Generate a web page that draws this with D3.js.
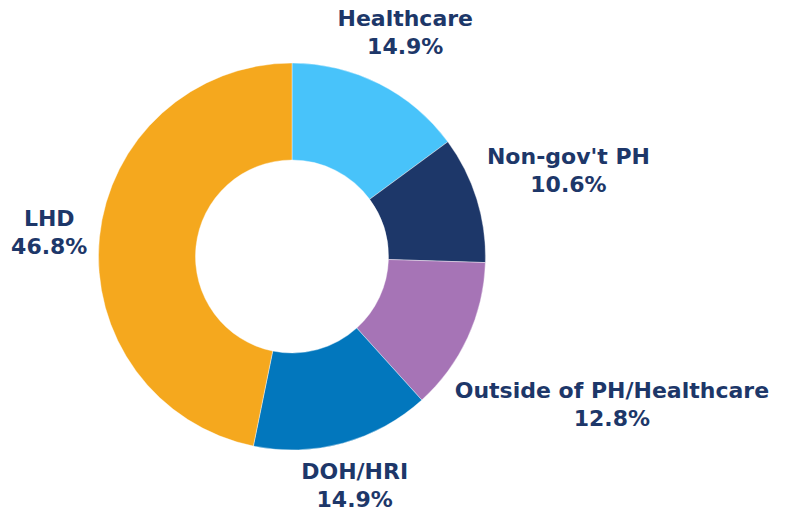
<!DOCTYPE html>
<html>
<head>
<meta charset="utf-8">
<script src="https://cdn.jsdelivr.net/npm/d3@7"></script>
<style>
  body { margin: 0; background: #fff; }
  text { font-family: "DejaVu Sans", sans-serif; font-weight: bold; fill: #1d3769; }
</style>
</head>
<body>
<div id="chart"></div>
<script>
// Data, clockwise from 12 o'clock
const categories = ["Healthcare", "Non-gov't PH", "Outside of PH/Healthcare", "DOH/HRI", "LHD"];
const shares = [14.9, 10.6, 12.8, 14.9, 46.8];
const colours = ["#48c3fa", "#1d3769", "#a674b6", "#0277bd", "#f5a81e"];

const width = 790;
const height = 518;
const cx = 292;
const cy = 256.5;
const outerR = 193.5;
const innerR = 96.5;
const labelGap = 12;
const fontSize = 22;
const lineHeight = 28;

const svg = d3.select("#chart").append("svg")
  .attr("width", width)
  .attr("height", height);

const g = svg.append("g").attr("transform", `translate(${cx}, ${cy})`);

const pie = d3.pie().sort(null).value((d) => d.value);
const arc = d3.arc().innerRadius(innerR).outerRadius(outerR);

const slices = pie(categories.map((c, i) => ({ name: c, value: shares[i], colour: colours[i] })));

g.selectAll("path.slice")
  .data(slices)
  .enter()
  .append("path")
  .attr("class", "slice")
  .attr("d", arc)
  .attr("fill", (d) => d.data.colour)
  .attr("stroke", "#fff")
  .attr("stroke-width", 0.4);

// Labels: two lines, pushed out along the mid angle until the box clears the ring
const labels = g.selectAll("g.label")
  .data(slices)
  .enter()
  .append("g")
  .attr("class", "label");

labels.append("text")
  .attr("text-anchor", "middle")
  .attr("font-size", fontSize)
  .attr("y", 0)
  .text((d) => d.data.name);

labels.append("text")
  .attr("text-anchor", "middle")
  .attr("font-size", fontSize)
  .attr("y", lineHeight)
  .text((d) => d.data.value.toFixed(1) + "%");

labels.each(function (d) {
  const box = this.getBBox();
  const mid = (d.startAngle + d.endAngle) / 2;
  const ux = Math.sin(mid);
  const uy = -Math.cos(mid);
  // offsets of box centre relative to the group origin
  const bx = box.x + box.width / 2;
  const by = box.y + box.height / 2;
  const hw = box.width / 2 - 1;
  const hh = box.height / 2 - 3;
  let dist = outerR;
  for (; dist < 600; dist += 0.5) {
    const x = ux * dist;
    const y = uy * dist;
    const nx = Math.max(x - hw, Math.min(0, x + hw));
    const ny = Math.max(y - hh, Math.min(0, y + hh));
    if (Math.hypot(nx, ny) >= outerR + labelGap) break;
  }
  d3.select(this).attr("transform", `translate(${ux * dist - bx}, ${uy * dist - by})`);
});
</script>
</body>
</html>
